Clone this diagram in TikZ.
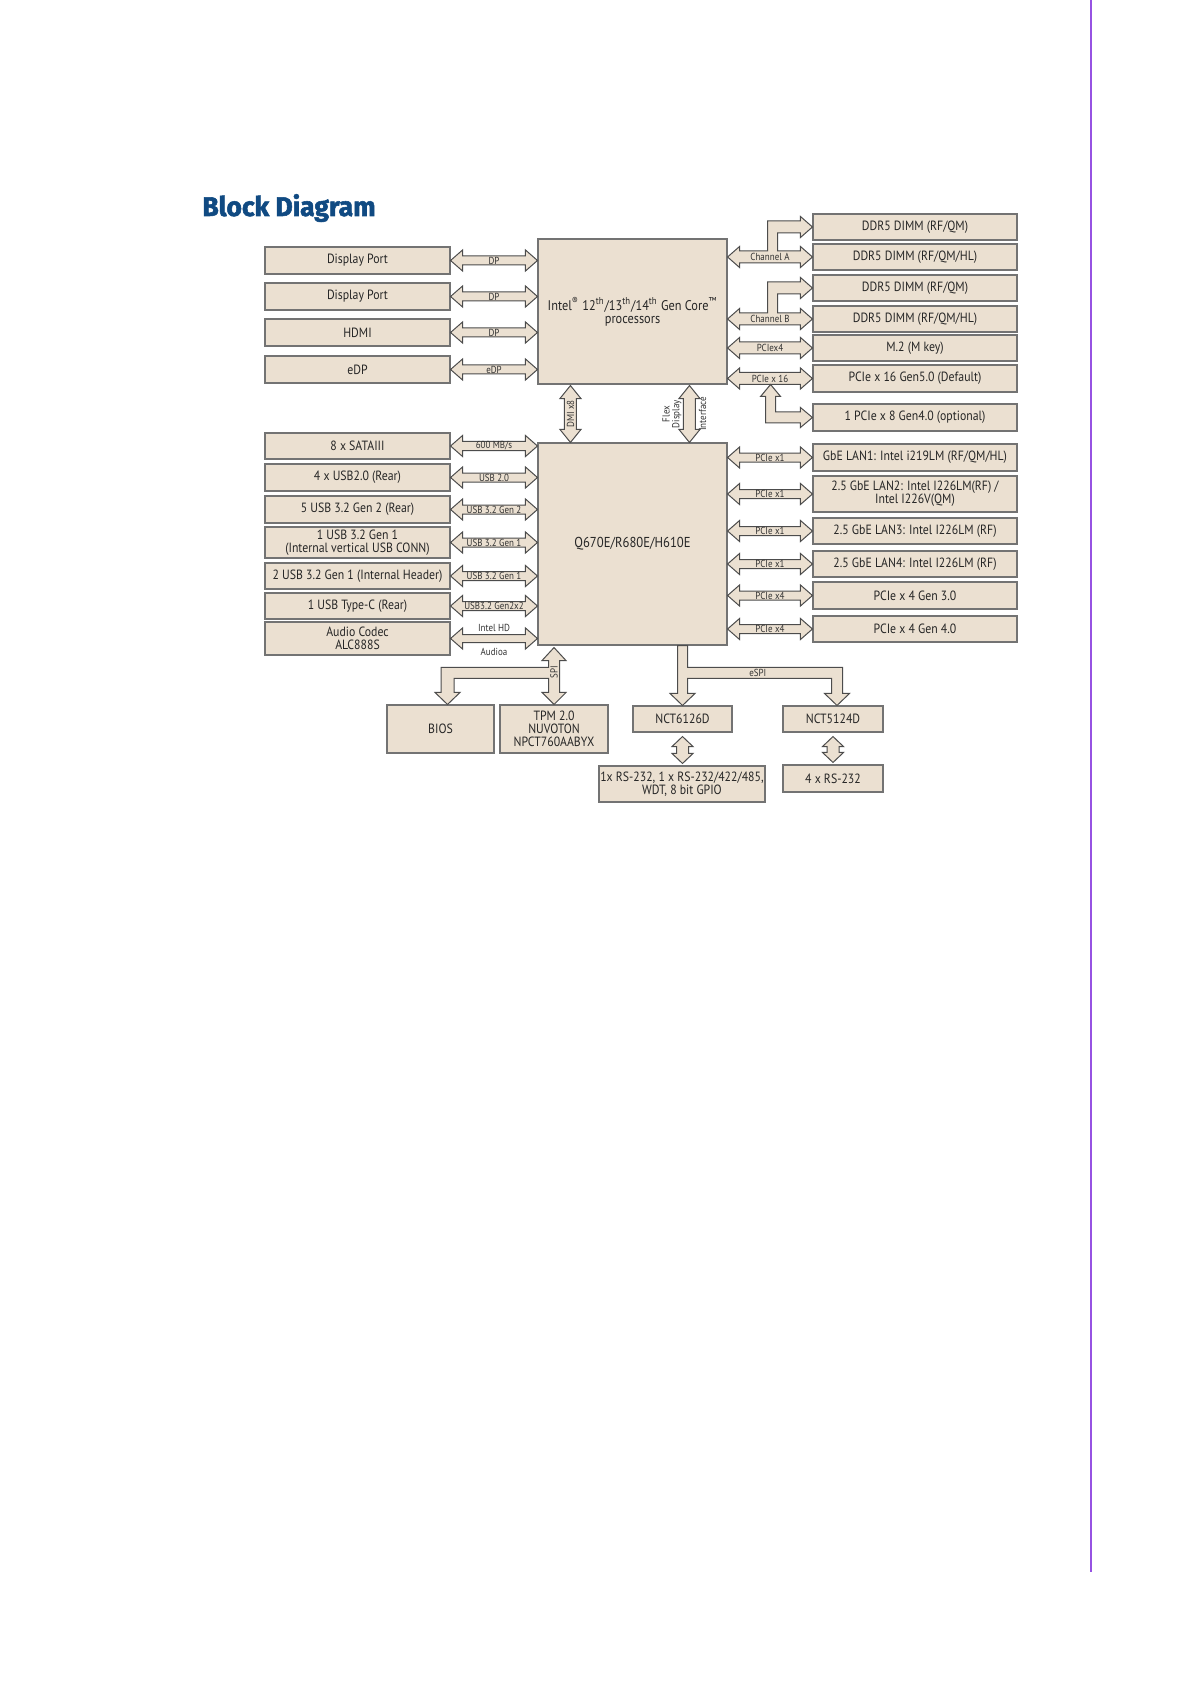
\documentclass[tikz,border=0pt]{standalone}
\usepackage{fontspec}
\setmainfont{PT Sans}[FakeStretch=0.88]
\newfontfamily\titlefont{Fira Sans}[BoldFeatures={FakeBold=2}]
\usetikzlibrary{calc}
\definecolor{beige}{RGB}{235,224,209}
\definecolor{titleblue}{RGB}{16,74,130}
\definecolor{violetline}{RGB}{150,82,226}
\tikzset{
 box/.style={draw=black!55, line width=0.55pt, fill=beige, inner sep=0pt, align=center,
   font=\fontsize{6.7}{6.5}\selectfont, text=black!85},
 arw/.style={draw=black!70, line width=0.5pt, fill=beige, line join=miter},
 albl/.style={font=\fontsize{5.1}{4.8}\selectfont, inner sep=0pt, text=black!80, align=center},
}
% box from pixel corners
\newcommand\bx[6]{\node[box, minimum width={(#4-#2)*0.5pt}, minimum height={(#5-#3)*0.5pt}] (#1) at ({(#2+#4)/2},{(#3+#5)/2}) {#6};}
% horizontal double arrow: [shaft half] {left} {right} {label}
\newcommand\harr[4][2.25pt]{%
 \draw[arw] let \p1=#2, \p2=#3 in (\x1,\y1) -- (\x1+6pt,\y1+5.25pt) -- (\x1+6pt,\y1+#1) -- (\x2-6pt,\y1+#1) -- (\x2-6pt,\y1+5.25pt) -- (\x2,\y1) -- (\x2-6pt,\y1-5.25pt) -- (\x2-6pt,\y1-#1) -- (\x1+6pt,\y1-#1) -- (\x1+6pt,\y1-5.25pt) -- cycle;
 \node[albl] at ($#2!0.5!#3$) {#4};}
% vertical double arrow: [head length] {top} {bottom}
\newcommand\varr[3][6.5pt]{%
 \draw[arw] let \p1=#2, \p2=#3 in (\x1,\y1) -- (\x1+5.25pt,\y1-#1) -- (\x1+3pt,\y1-#1) -- (\x1+3pt,\y2+#1) -- (\x1+5.25pt,\y2+#1) -- (\x1,\y2) -- (\x1-5.25pt,\y2+#1) -- (\x1-3pt,\y2+#1) -- (\x1-3pt,\y1-#1) -- (\x1-5.25pt,\y1-#1) -- cycle;}
% channel arrow with branch: {lower box} {upper box} {label}
\newcommand\charr[3]{%
 \draw[arw] let \p1=(cpu.east |- #1.west), \p2=(#1.west), \p3=(#2.west) in
 (\x1,\y1) -- (\x1+6pt,\y1+5.25pt) -- (\x1+6pt,\y1+3pt) -- (\x1+20pt,\y1+3pt) -- (\x1+20pt,\y3+3pt) -- (\x2-6pt,\y3+3pt) -- (\x2-6pt,\y3+5.25pt) -- (\x2,\y3) -- (\x2-6pt,\y3-5.25pt) -- (\x2-6pt,\y3-3pt) -- (\x1+25pt,\y3-3pt) -- (\x1+25pt,\y1+3pt) -- (\x2-6pt,\y1+3pt) -- (\x2-6pt,\y1+5.25pt) -- (\x2,\y1) -- (\x2-6pt,\y1-5.25pt) -- (\x2-6pt,\y1-3pt) -- (\x1+6pt,\y1-3pt) -- (\x1+6pt,\y1-5.25pt) -- cycle;
 \node[albl] at ($(cpu.east |- #1.west)!0.5!(#1.west)$) {#3};}
\begin{document}
\begin{tikzpicture}[x=0.5pt,y=-0.5pt]
\fill[white] (0,0) rectangle (1191,1684);
\useasboundingbox (0,0) rectangle (1191,1684);
\draw[violetline, line width=1.25pt] (1091,0) -- (1091,1572);
\node[anchor=base west, inner sep=0pt, text=titleblue] (title) at (202,216)
  {\scalebox{0.98}[1]{\titlefont\bfseries\fontsize{13.5}{13.5}\selectfont Block Diagram}};

% ---- CPU and its boxes
\bx{cpu}{538}{239}{727}{384}{\fontsize{7}{6.6}\selectfont Intel\textsuperscript{®} 12\textsuperscript{th}/13\textsuperscript{th}/14\textsuperscript{th} Gen Core\textsuperscript{™}\\\fontsize{7}{6.6}\selectfont processors}
\bx{dp1}{265}{247}{450}{274}{Display Port}
\bx{dp2}{265}{283}{450}{310}{Display Port}
\bx{hdmi}{265}{319}{450}{346}{HDMI}
\bx{edp}{265}{356}{450}{383}{eDP}
\bx{ddr1}{813}{214}{1017}{240}{DDR5 DIMM (RF/QM)}
\bx{ddr2}{813}{244}{1017}{270}{DDR5 DIMM (RF/QM/HL)}
\bx{ddr3}{813}{275}{1017}{301}{DDR5 DIMM (RF/QM)}
\bx{ddr4}{813}{306}{1017}{332}{DDR5 DIMM (RF/QM/HL)}
\bx{m2}{813}{335}{1017}{361}{M.2 (M key)}
\bx{pcie16}{813}{365}{1017}{392}{PCIe x 16 Gen5.0 (Default)}
\bx{pcie8}{813}{404}{1017}{431}{1 PCIe x 8 Gen4.0 (optional)}

% ---- chipset and its boxes
\bx{pch}{538}{443}{727}{645}{\fontsize{7.2}{7}\selectfont Q670E/R680E/H610E}
\bx{sata}{265}{433}{450}{459}{8 x SATAIII}
\bx{usb2}{265}{464}{450}{491}{4 x USB2.0 (Rear)}
\bx{usbg2}{265}{496}{450}{523}{5 USB 3.2 Gen 2 (Rear)}
\bx{usbv}{265}{527}{450}{558}{1 USB 3.2 Gen 1\\(Internal vertical USB CONN)}
\bx{usbh}{265}{563}{450}{589}{2 USB 3.2 Gen 1 (Internal Header)}
\bx{usbc}{265}{593}{450}{619}{1 USB Type-C (Rear)}
\bx{audio}{265}{622}{450}{655}{Audio Codec\\ALC888S}
\bx{lan1}{813}{444}{1017}{471}{GbE LAN1: Intel i219LM (RF/QM/HL)}
\bx{lan2}{813}{476}{1017}{512}{2.5 GbE LAN2: Intel I226LM(RF) /\\Intel I226V(QM)}
\bx{lan3}{813}{518}{1017}{544}{2.5 GbE LAN3: Intel I226LM (RF)}
\bx{lan4}{813}{551}{1017}{577}{2.5 GbE LAN4: Intel I226LM (RF)}
\bx{pcie3}{813}{582}{1017}{609}{PCIe x 4 Gen 3.0}
\bx{pcie4}{813}{616}{1017}{642}{PCIe x 4 Gen 4.0}

% ---- bottom boxes
\bx{bios}{387}{705}{494}{753}{BIOS}
\bx{tpm}{500}{705}{608}{753}{TPM 2.0\\NUVOTON\\NPCT760AABYX}
\bx{nct6}{633}{706}{732}{732}{NCT6126D}
\bx{nct5}{783}{706}{883}{732}{NCT5124D}
\bx{rs1}{599}{766}{765}{802}{1x RS-232, 1 x RS-232/422/485,\\WDT, 8 bit GPIO}
\bx{rs2}{783}{765}{883}{792}{4 x RS-232}

% ---- CPU connectors
\harr{(dp1.east)}{(cpu.west |- dp1.east)}{DP}
\harr{(dp2.east)}{(cpu.west |- dp2.east)}{DP}
\harr{(hdmi.east)}{(cpu.west |- hdmi.east)}{DP}
\harr{(edp.east)}{(cpu.west |- edp.east)}{eDP}
\charr{ddr2}{ddr1}{Channel A}
\charr{ddr4}{ddr3}{Channel B}
\harr[3pt]{(cpu.east |- m2.west)}{(m2.west)}{PCIex4}
\harr[3pt]{(cpu.east |- pcie16.west)}{(pcie16.west)}{PCIe x 16}
\draw[arw] let \p1=(pcie16.west), \p2=(pcie8.west), \p3=($(cpu.east |- pcie16.west)+(21.5pt,0)$) in
 (\x3,\y1-3pt) -- (\x3+5pt,\y1-9pt) -- (\x3+2.5pt,\y1-9pt) -- (\x3+2.5pt,\y2+2.75pt) -- (\x2-6pt,\y2+2.75pt) -- (\x2-6pt,\y2+5pt) -- (\x2,\y2) -- (\x2-6pt,\y2-5pt) -- (\x2-6pt,\y2-2.75pt) -- (\x3-2.5pt,\y2-2.75pt) -- (\x3-2.5pt,\y1-9pt) -- (\x3-5pt,\y1-9pt) -- cycle;

% ---- CPU to chipset
\coordinate (dmiT) at ([xshift=16.5pt,yshift=-0.5pt]cpu.south west);
\coordinate (dmiB) at ([xshift=16.5pt]pch.north west);
\coordinate (flT) at ([xshift=76pt,yshift=-0.5pt]cpu.south west);
\coordinate (flB) at ([xshift=76pt]pch.north west);
\varr{(dmiT)}{(dmiB)}
\varr{(flT)}{(flB)}
\node[albl, rotate=90] at ($(dmiT)!0.5!(dmiB)$) {DMI x8};
\node[albl, rotate=90] at ($($(flT)!0.5!(flB)$)+(-8.75pt,0)$) {Flex\\Display};
\node[albl, rotate=90] at ($($(flT)!0.5!(flB)$)+(6.5pt,0)$) {Interface};

% ---- chipset connectors
\harr{(sata.east)}{(pch.west |- sata.east)}{600 MB/s}
\harr{(usb2.east)}{(pch.west |- usb2.east)}{USB 2.0}
\harr{(usbg2.east)}{(pch.west |- usbg2.east)}{USB 3.2 Gen 2}
\harr{(usbv.east)}{(pch.west |- usbv.east)}{USB 3.2 Gen 1}
\harr{(usbh.east)}{(pch.west |- usbh.east)}{USB 3.2 Gen 1}
\harr{(usbc.east)}{(pch.west |- usbc.east)}{USB3.2 Gen2x2}
\harr[2pt]{(audio.east)}{(pch.west |- audio.east)}{}
\node[albl] at ([yshift=5.5pt]$(audio.east)!0.5!(pch.west |- audio.east)$) {Intel HD};
\node[albl] at ([yshift=-6.5pt]$(audio.east)!0.5!(pch.west |- audio.east)$) {Audioa};
\harr{(pch.east |- lan1.west)}{(lan1.west)}{PCIe x1}
\harr{(pch.east |- lan2.west)}{(lan2.west)}{PCIe x1}
\harr{(pch.east |- lan3.west)}{(lan3.west)}{PCIe x1}
\harr{(pch.east |- lan4.west)}{(lan4.west)}{PCIe x1}
\harr{(pch.east |- pcie3.west)}{(pcie3.west)}{PCIe x4}
\harr{(pch.east |- pcie4.west)}{(pcie4.west)}{PCIe x4}

% ---- SPI to TPM and BIOS
\draw[arw] let \p1=(tpm.north |- pch.south), \p2=(tpm.north), \p3=([xshift=3.5pt]bios.north) in
 (\x1,\y1-1pt) -- (\x1+6pt,\y1-7.5pt) -- (\x1+2.75pt,\y1-7.5pt) -- (\x1+2.75pt,\y2+6pt) -- (\x1+6pt,\y2+6pt) -- (\x1,\y2) -- (\x1-6pt,\y2+6pt) -- (\x1-2.75pt,\y2+6pt) -- (\x1-2.75pt,\y2+13pt) -- (\x3+3.25pt,\y2+13pt) -- (\x3+3.25pt,\y2+6pt) -- (\x3+6.25pt,\y2+6pt) -- (\x3,\y2) -- (\x3-6.25pt,\y2+6pt) -- (\x3-3.25pt,\y2+6pt) -- (\x3-3.25pt,\y2+18.5pt) -- (\x1-2.75pt,\y2+18.5pt) -- (\x1-2.75pt,\y1-7.5pt) -- (\x1-6pt,\y1-7.5pt) -- cycle;
\node[albl, rotate=90] at ([yshift=16pt]tpm.north) {SPI};

% ---- eSPI to super I/O chips
\draw[arw] let \p1=(nct6.north |- pch.south), \p2=(nct6.north), \p3=([xshift=2pt]nct5.north) in
 (\x1-2.5pt,\y1) -- (\x1+2.5pt,\y1) -- (\x1+2.5pt,\y2+19pt) -- (\x3+2.75pt,\y2+19pt) -- (\x3+2.75pt,\y2+6pt) -- (\x3+6.25pt,\y2+6pt) -- (\x3,\y2) -- (\x3-6.25pt,\y2+6pt) -- (\x3-2.75pt,\y2+6pt) -- (\x3-2.75pt,\y2+13.5pt) -- (\x1+2.5pt,\y2+13.5pt) -- (\x1+2.5pt,\y2+6pt) -- (\x1+6.25pt,\y2+6pt) -- (\x1,\y2) -- (\x1-6.25pt,\y2+6pt) -- (\x1-2.5pt,\y2+6pt) -- cycle;
\node[albl] at ([yshift=16.25pt]$(nct6.north)!0.5!(nct5.north)$) {eSPI};

% ---- super I/O to serial ports
\coordinate (s6T) at ([yshift=-2pt]nct6.south);
\coordinate (s6B) at ([yshift=1pt]s6T |- rs1.north);
\coordinate (s5T) at ([yshift=-2pt]nct5.south);
\coordinate (s5B) at ([yshift=1pt]s5T |- rs2.north);
\varr[5pt]{(s6T)}{(s6B)}
\varr[5pt]{(s5T)}{(s5B)}
\end{tikzpicture}
\end{document}
